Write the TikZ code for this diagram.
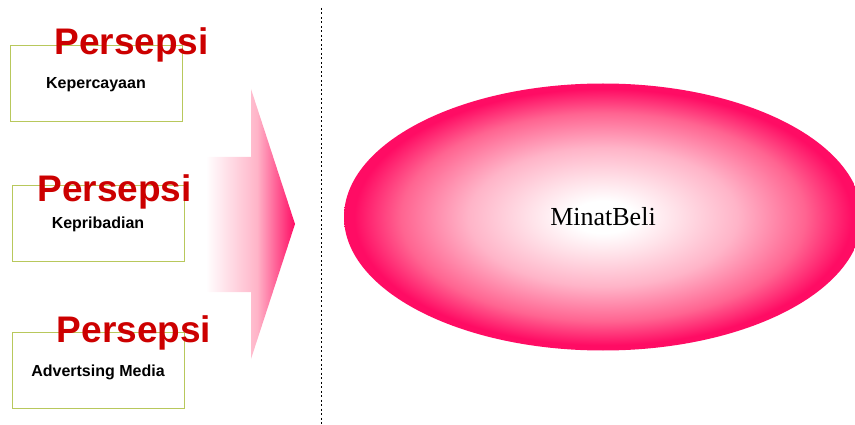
\documentclass[tikz,border=0pt]{standalone}
\usepackage{fontspec}
\setmainfont{Liberation Serif}
\newfontfamily\arialfont{Liberation Sans}
\usetikzlibrary{shapes.geometric}
\definecolor{minatpink}{RGB}{255,12,100}
\definecolor{glowa}{RGB}{255,226,233}
\definecolor{glowb}{RGB}{255,180,200}
\definecolor{glowc}{RGB}{255,100,145}
\definecolor{persred}{RGB}{204,0,0}
\definecolor{boxolive}{RGB}{184,200,92}
% the bbox of a shaded path runs from 25bp to 75bp
\pgfdeclareradialshading{minatglow}{\pgfpoint{0bp}{0bp}}{%
  color(0bp)=(white); color(3bp)=(white); color(7bp)=(glowa); color(13bp)=(glowb);
  color(19.5bp)=(glowc); color(24bp)=(minatpink); color(50bp)=(minatpink)}
\pgfdeclarehorizontalshading{arrowfade}{100bp}{%
  color(0bp)=(white); color(28bp)=(white); color(55bp)=(glowb);
  color(75bp)=(minatpink); color(100bp)=(minatpink)}

\begin{document}
\begin{tikzpicture}[x=1pt,y=-1pt,
  factorbox/.style={draw=boxolive,line width=0.8pt,minimum width=172pt,minimum height=76pt,
    inner sep=0pt,text height=12pt,text depth=0pt,
    font=\arialfont\bfseries\fontsize{16}{18}\selectfont},
  perstext/.style={anchor=base,text=persred,inner sep=0pt,
    font=\arialfont\bfseries\fontsize{37}{40}\selectfont}]
\useasboundingbox (0,0) rectangle (855,425);
% ---- three factor boxes, each with its red heading ----
\foreach \nm/\bx/\by/\lab/\px/\py in {a/96/83/Kepercayaan/131.5/55,
    b/98/223/Kepribadian/114.5/202, c/98/370/Advertsing Media/134/342}{
  \node[factorbox] (box\nm) at (\bx,\by) {\lab};
  \node[perstext] (persepsi\nm) at (\px,\py) {Persepsi};}
% ---- block arrow, fading in from the left ----
\shade[shading=arrowfade]
  (200,157) -- (251,157) -- (251,89) -- (295,224) -- (251,359) -- (251,292) -- (200,292) -- cycle;
% ---- dashed divider ----
\coordinate (divtop) at (321,8);
\coordinate (divbot) at (321,425);
\draw[line width=0.8pt,dash pattern=on 2pt off 2.5pt] (divtop) -- (divbot);
% ---- target ellipse ----
\node[ellipse,shading=minatglow,minimum width=518pt,minimum height=267pt,inner sep=0pt,
  font=\fontsize{26}{30}\selectfont] (minat) at (603,217) {MinatBeli};
\end{tikzpicture}
\end{document}
